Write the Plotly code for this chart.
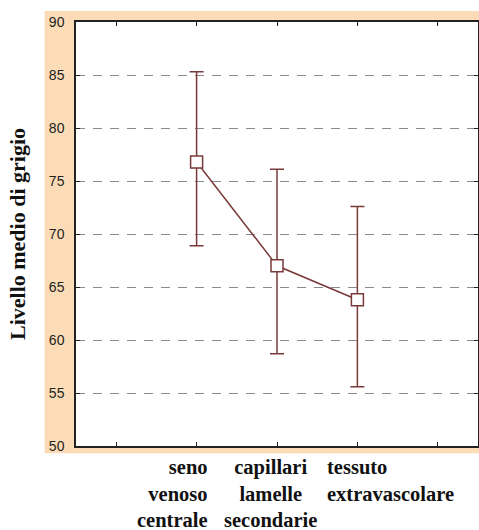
import plotly.graph_objects as go

categories = ["seno<br>venoso<br>centrale", "capillari<br>lamelle<br>secondarie", "tessuto<br>extravascolare"]
means = [76.8, 67.0, 63.8]
upper = [85.3, 76.1, 72.6]
lower = [68.9, 58.7, 55.6]
y_ticks = [50, 55, 60, 65, 70, 75, 80, 85, 90]
y_title = "Livello medio di grigio"

xpos = [i + 1 for i in range(len(categories))]
err_plus = [u - m for u, m in zip(upper, means)]
err_minus = [m - l for m, l in zip(means, lower)]

brown = "#7a3a3a"

fig = go.Figure()
fig.add_trace(go.Scatter(
    x=xpos, y=means, mode="lines+markers",
    line=dict(color=brown, width=1.5),
    marker=dict(symbol="square", size=12, color="white", line=dict(color=brown, width=1.5)),
    error_y=dict(type="data", symmetric=False, array=err_plus, arrayminus=err_minus,
                 color=brown, thickness=1.5, width=7),
    showlegend=False,
))

# peach background band behind the plot area
fig.add_shape(type="rect", xref="paper", yref="paper", x0=-0.078, x1=1.004, y0=-0.017, y1=1.026,
              fillcolor="#fbdcb6", line=dict(width=0), layer="below")
fig.add_shape(type="rect", xref="paper", yref="paper", x0=0, x1=1, y0=0, y1=1,
              fillcolor="white", line=dict(width=0), layer="below")

# category labels (column aligned)
aligns = ["right", "center", "left"]
shifts = [13, -7, -32]
for xp, lab, al, sh in zip(xpos, categories, aligns, shifts):
    fig.add_annotation(x=xp, y=0, xref="x", yref="paper", yanchor="top", yshift=-8,
                       xanchor=al, align=al, xshift=sh, text="<b>" + lab + "</b>", showarrow=False,
                       font=dict(family="Liberation Serif", size=20.5, color="#111"))

n = len(categories)
fig.update_xaxes(range=[-0.5, n + 1.5], tickvals=list(range(0, n + 2)),
                 showticklabels=False, ticks="inside", ticklen=4, tickcolor="#222",
                 showline=True, linecolor="#222", linewidth=1.5, mirror="ticks",
                 showgrid=False, zeroline=False, automargin=False)
fig.update_yaxes(range=[50, 90], tickvals=y_ticks, ticks="inside", ticklen=4, tickcolor="#222",
                 showline=True, linecolor="#222", linewidth=1.5, mirror="ticks",
                 showgrid=True, gridcolor="#8a8a8a", gridwidth=1.3, griddash="9px,8px",
                 zeroline=False, ticklabelstandoff=7, automargin=False,
                 tickfont=dict(family="Liberation Sans, Arial", size=14, color="#222"),
                 title=dict(text="<b>" + y_title + "</b>", standoff=17,
                            font=dict(family="Liberation Serif", size=22, color="#111")))

fig.update_layout(
    width=479, height=530,
    margin=dict(l=76, r=1, t=22, b=84),
    paper_bgcolor="white", plot_bgcolor="rgba(0,0,0,0)",
)
fig.write_html("out.html", config={"displayModeBar": False},
               post_script="document.body.style.margin='0';document.body.style.overflow='hidden';")
